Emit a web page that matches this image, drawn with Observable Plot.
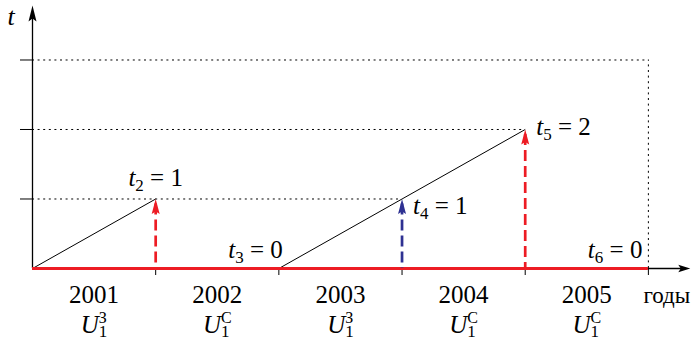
<!DOCTYPE html>
<html>
<head>
<meta charset="utf-8">
<script src="https://cdn.jsdelivr.net/npm/d3@7"></script>
<script src="https://cdn.jsdelivr.net/npm/@observablehq/plot@0.6"></script>
<style>
  html, body { margin: 0; padding: 0; background: #fff; }
</style>
</head>
<body>
<div id="chart"></div>
<script>
// Years and the strategy used in each one
const years = ["2001", "2002", "2003", "2004", "2005"];
const strategies = ["З", "С", "З", "С", "С"];

// Counter t at the end of each year (t1 = 0 at the start)
const eventX = [0, 1, 2, 3, 4, 5];
const tValues = [0, 1, 0, 1, 2, 0];
const tIndex = [1, 2, 3, 4, 5, 6];

// Dotted guide levels and where each one stops
const guideT = [1, 2, 3];
const guideEnd = [3, 4, 5];

const RED = "#ed1c24";
const BLUE = "#2e3192";
const FONT = "Liberation Serif";

const xAxisEnd = 5.34;   // x arrow tip
const tAxisEnd = 3.785;  // t arrow tip

// Arrowheads drawn as custom dot symbols, tip at the anchor point
const headUp = (len, half, notch) => ({
  draw(ctx) {
    ctx.moveTo(0, 0);
    ctx.lineTo(half, len);
    ctx.lineTo(0, len - notch);
    ctx.lineTo(-half, len);
    ctx.closePath();
  }
});
const headRight = (len, half, notch) => ({
  draw(ctx) {
    ctx.moveTo(0, 0);
    ctx.lineTo(-len, half);
    ctx.lineTo(-len + notch, 0);
    ctx.lineTo(-len, -half);
    ctx.closePath();
  }
});

// Growth segments: wherever t rises from one year end to the next
const ramps = d3.range(1, eventX.length).filter(i => tValues[i] > 0);

// Dashed arrows at each positive t; red when the counter resets afterwards
const arrows = d3.range(1, eventX.length).filter(i => tValues[i] > 0);
const arrowColor = i => (tValues[i + 1] === 0 ? RED : BLUE);

// Label placement for t_k = v
const placement = {
  1: {anchor: "middle", dx: 0, dy: -13},
  2: {anchor: "end", dx: 4, dy: -11},
  3: {anchor: "start", dx: 11, dy: 15},
  4: {anchor: "start", dx: 11, dy: 6},
  5: {anchor: "end", dx: -6, dy: -11}
};

const labelMarks = Object.keys(placement).map(k => {
  const i = +k, p = placement[k];
  return Plot.text([i], {
    x: j => eventX[j],
    y: j => tValues[j],
    text: j => `t_${tIndex[j]} = ${tValues[j]}`,
    textAnchor: p.anchor,
    lineAnchor: "bottom",
    dx: p.dx,
    dy: p.dy,
    fontSize: 25,
    fontFamily: FONT
  });
});

const svg = Plot.plot({
  width: 691,
  height: 340,
  marginLeft: 32,
  marginRight: 0,
  marginTop: 0,
  marginBottom: 72,
  style: {fontSize: "25px", color: "#000", background: "#fff"},
  x: {domain: [0, 5.35]},
  y: {domain: [0, 3.856]},
  marks: [
    // dotted guides
    Plot.ruleY(guideT, {y: d => d, x1: 0, x2: (d, i) => guideEnd[i], stroke: "#000", strokeWidth: 1, strokeDasharray: "2,3.6"}),
    Plot.ruleX([guideEnd[guideEnd.length - 1]], {x: d => d, y1: 0, y2: guideT[guideT.length - 1], stroke: "#000", strokeWidth: 1, strokeDasharray: "2,3.6"}),
    // ticks
    Plot.axisY({ticks: guideT, tickSize: 12, tickFormat: () => "", label: null}),
    Plot.axisX({ticks: [1, 2, 3, 4, 5], tickSize: 7, tickFormat: () => "", label: null}),
    // axes
    Plot.ruleX([0], {y1: 0, y2: tAxisEnd - 0.1, stroke: "#000", strokeWidth: 1.3}),
    Plot.ruleY([0], {x1: 0, x2: xAxisEnd - 0.05, stroke: "#000", strokeWidth: 1.3}),
    Plot.dot([0], {x: 0, y: tAxisEnd, symbol: headUp(16, 4, 3), fill: "#000", stroke: "none"}),
    Plot.dot([0], {x: xAxisEnd, y: 0, symbol: headRight(12, 3.8, 2.5), fill: "#000", stroke: "none"}),
    // growth of t
    Plot.link(ramps, {
      x1: i => eventX[i - 1], y1: i => tValues[i - 1],
      x2: i => eventX[i], y2: i => tValues[i],
      stroke: "#000", strokeWidth: 1
    }),
    // red baseline over the whole period
    Plot.ruleY([0], {x1: 0, x2: eventX[eventX.length - 1], stroke: RED, strokeWidth: 3.2}),
    // dashed arrows
    Plot.ruleX(arrows, {
      x: i => eventX[i], y1: i => tValues[i], y2: 0,
      stroke: arrowColor, strokeWidth: 2.7, strokeDasharray: "11,5", strokeDashoffset: 11
    }),
    Plot.dot(arrows, {x: i => eventX[i], y: i => tValues[i], symbol: headUp(15, 4, 2.5), fill: arrowColor, stroke: "none"}),
    // t labels
    ...labelMarks,
    // year and strategy labels
    Plot.text(years, {x: (d, i) => i + 0.5, y: 0, text: d => d, lineAnchor: "bottom", dy: 34, fontSize: 25, fontFamily: FONT}),
    Plot.text(strategies, {x: (d, i) => i + 0.5, y: 0, text: d => `U_1^${d}`, lineAnchor: "bottom", dy: 64, fontSize: 25, fontFamily: FONT}),
    // axis names
    Plot.text(["годы"], {x: xAxisEnd, y: 0, textAnchor: "end", lineAnchor: "bottom", dy: 34, fontSize: 23, fontFamily: FONT}),
    Plot.text(["t"], {x: 0, y: tAxisEnd, textAnchor: "start", lineAnchor: "bottom", dx: -25, dy: 20, fontSize: 26, fontStyle: "italic", fontFamily: FONT})
  ]
});

// Turn "t_2 = 1" / "U_1^З" into italic letter with sub/superscripts
const NS = "http://www.w3.org/2000/svg";
function tspan(text, attrs) {
  const el = document.createElementNS(NS, "tspan");
  for (const [k, v] of Object.entries(attrs)) el.setAttribute(k, v);
  el.textContent = text;
  return el;
}
svg.querySelectorAll("text").forEach(el => {
  const m = el.textContent.match(/^(\p{L})_(\S)(?:\^(\S))?(.*)$/u);
  if (!m) return;
  el.textContent = "";
  el.appendChild(tspan(m[1], {"font-style": "italic"}));
  const down = m[3] ? 4 : 5;
  el.appendChild(tspan(m[2], {"font-size": "17px", dy: down}));
  let back = -down;
  if (m[3]) {
    el.appendChild(tspan(m[3], {"font-size": "16px", dx: -8.5, dy: -down - 10}));
    back = 10;
  }
  if (m[4]) el.appendChild(tspan(m[4], {dy: back}));
});

document.getElementById("chart").appendChild(svg);
</script>
</body>
</html>
